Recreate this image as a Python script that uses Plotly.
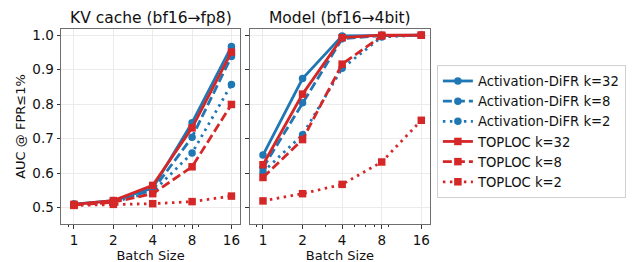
import numpy as np
import plotly.graph_objects as go

batch_sizes = [1, 2, 4, 8, 16]
batch_labels = ["1", "2", "4", "8", "16"]

# KV cache (bf16->fp8)
kv_difr_32 = [0.510, 0.520, 0.556, 0.746, 0.967]
kv_difr_8 = [0.509, 0.518, 0.550, 0.704, 0.938]
kv_difr_2 = [0.508, 0.516, 0.545, 0.658, 0.857]
kv_toploc_32 = [0.509, 0.520, 0.564, 0.731, 0.951]
kv_toploc_8 = [0.507, 0.515, 0.540, 0.618, 0.799]
kv_toploc_2 = [0.506, 0.509, 0.511, 0.517, 0.533]

# Model (bf16->4bit)
m_difr_32 = [0.652, 0.874, 0.998, 1.000, 1.000]
m_difr_8 = [0.615, 0.804, 0.990, 0.999, 1.000]
m_difr_2 = [0.603, 0.711, 0.904, 0.995, 1.000]
m_toploc_32 = [0.624, 0.829, 0.993, 1.000, 1.000]
m_toploc_8 = [0.587, 0.697, 0.916, 0.998, 1.000]
m_toploc_2 = [0.519, 0.540, 0.567, 0.632, 0.753]

titles = ["KV cache (bf16\u2192fp8)", "Model (bf16\u21924bit)"]
legend_names = ["Activation-DiFR k=32", "Activation-DiFR k=8", "Activation-DiFR k=2",
                "TOPLOC k=32", "TOPLOC k=8", "TOPLOC k=2"]

BLUE = "#1f77b4"
RED = "#d62728"
FONT = "DejaVu Sans"
dashes = ["solid", "9px,4px", "2.5px,4.5px"]

series = [
    [kv_difr_32, kv_difr_8, kv_difr_2, kv_toploc_32, kv_toploc_8, kv_toploc_2],
    [m_difr_32, m_difr_8, m_difr_2, m_toploc_32, m_toploc_8, m_toploc_2],
]

fig = go.Figure()
for p, panel in enumerate(series):
    xa = "x" if p == 0 else "x2"
    ya = "y" if p == 0 else "y2"
    for i, vals in enumerate(panel):
        is_blue = i < 3
        fig.add_trace(go.Scatter(
            x=batch_sizes, y=vals, xaxis=xa, yaxis=ya,
            mode="lines+markers",
            name=legend_names[i],
            legendgroup=legend_names[i],
            showlegend=(p == 0),
            line=dict(color=BLUE if is_blue else RED, width=2.8, dash=dashes[i % 3]),
            marker=dict(symbol="circle" if is_blue else "square",
                        size=7.5,
                        color=BLUE if is_blue else RED),
        ))

xr = [np.log10(2 ** -0.33), np.log10(2 ** 4.22)]
yr = [0.452, 1.018]
axis_common = dict(
    showline=True, mirror=True, linecolor="#6e6e6e", linewidth=1,
    showgrid=True, gridcolor="#ebebeb", gridwidth=1,
    ticks="outside", ticklen=3.5, tickwidth=1, tickcolor="#333",
    tickfont=dict(family=FONT, size=13.5, color="#111"),
    zeroline=False,
)
xcommon = dict(axis_common, type="log", range=xr, tickmode="array",
               tickvals=batch_sizes, ticktext=batch_labels,
               title=dict(text="Batch Size", font=dict(family=FONT, size=13, color="#111"), standoff=1),
               minor=dict(tickmode="array", tickvals=[0.9, 3, 5, 6, 7, 9],
                          ticks="outside", ticklen=2, tickcolor="#333", showgrid=False))

d1 = (229 - 47) / 375
d2 = (239 - 47) / 375
fig.update_layout(
    width=634, height=262,
    margin=dict(l=47, r=212, t=21, b=40),
    paper_bgcolor="white", plot_bgcolor="white",
    font=dict(family=FONT, color="#111"),
    xaxis=dict(xcommon, domain=[0, d1], anchor="y"),
    xaxis2=dict(xcommon, domain=[d2, 1], anchor="y2"),
    yaxis=dict(axis_common, range=yr, domain=[0, 1], anchor="x",
               tickvals=[0.5, 0.6, 0.7, 0.8, 0.9, 1.0],
               ticktext=["0.5", "0.6", "0.7", "0.8", "0.9", "1.0"],
               title=dict(text="AUC @ FPR\u22641%", font=dict(family=FONT, size=13, color="#111"), standoff=3)),
    yaxis2=dict(axis_common, range=yr, domain=[0, 1], anchor="x2",
                tickvals=[0.5, 0.6, 0.7, 0.8, 0.9, 1.0], showticklabels=False),
    legend=dict(x=(429 - 47) / 375, y=(222 - 58) / 201, xanchor="left", yanchor="top",
                bgcolor="white", bordercolor="#d0d0d0", borderwidth=1,
                font=dict(family=FONT, size=13.2, color="#111"),
                tracegroupgap=0, itemwidth=30),
    showlegend=True,
)

for p, t in enumerate(titles):
    fig.add_annotation(
        text=t, xref="paper", yref="paper",
        x=(d1 / 2) if p == 0 else (d2 + 1) / 2, y=1,
        xanchor="center", yanchor="bottom", yshift=0, showarrow=False,
        font=dict(family=FONT, size=15.5, color="#111"),
    )

fig.write_html("out.html")
